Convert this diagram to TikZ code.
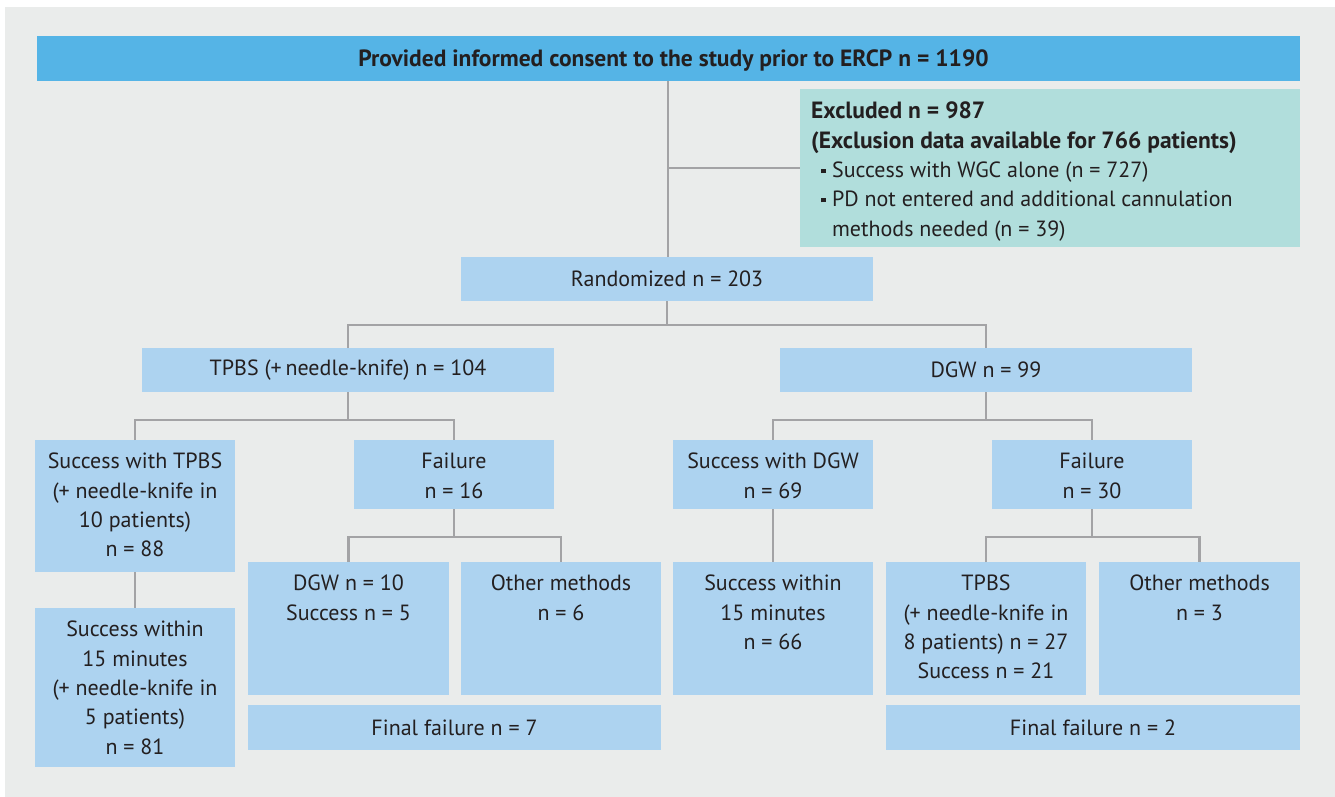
\documentclass[tikz,border=0pt]{standalone}
\usepackage{fontspec}
\setmainfont{PT Sans}
\definecolor{bgpanel}{HTML}{EAECEB}
\definecolor{topblue}{HTML}{55B4E6}
\definecolor{boxblue}{HTML}{ADD3F0}
\definecolor{teal}{HTML}{B1DEDC}
\definecolor{linegrey}{HTML}{A3A3A5}
\definecolor{txtc}{HTML}{231F20}
\newcommand{\sqbul}{\hspace{0.45em}\raisebox{0.2em}{\rule{0.2em}{0.2em}}\hspace{0.3em}}
\newcommand{\bfbig}{\fontsize{23.5}{29.3}\selectfont\bfseries}
\begin{document}
\begin{tikzpicture}[x=1pt,y=-1pt,
  box/.style={fill=boxblue, draw=none, inner sep=0pt, anchor=north west, outer sep=0pt},
  txt/.style={text=txtc, inner sep=0pt, anchor=north, align=center, font=\fontsize{22}{29.3}\selectfont},
  conn/.style={draw=linegrey, line width=2.5pt}]
\useasboundingbox (0,0) rectangle (1335,797);
\fill[white] (0,0) rectangle (1335,797);
\fill[bgpanel] (5,7) rectangle (1335,797);
% boxes
\node[box, fill=topblue, minimum width=1263pt, minimum height=45pt] (top) at (37,36) {};
\node[box, fill=teal, minimum width=500pt, minimum height=158pt] (excl) at (800,89) {};
\node[box, minimum width=412pt, minimum height=44pt] (rand) at (461,257) {};
\node[box, minimum width=412pt, minimum height=44pt] (tpbs) at (142,348) {};
\node[box, minimum width=412pt, minimum height=44pt] (dgw) at (780,348) {};
\node[box, minimum width=200pt, minimum height=132pt] (stpbs) at (35,440) {};
\node[box, minimum width=200pt, minimum height=69pt] (fail1) at (354,440) {};
\node[box, minimum width=200pt, minimum height=159pt] (swithin1) at (35,608) {};
\node[box, minimum width=201pt, minimum height=133pt] (dgw10) at (248,562) {};
\node[box, minimum width=200pt, minimum height=133pt] (other1) at (461,562) {};
\node[box, minimum width=413pt, minimum height=45pt] (ff1) at (248,705) {};
\node[box, minimum width=200pt, minimum height=69pt] (sdgw) at (673,440) {};
\node[box, minimum width=200pt, minimum height=69pt] (fail2) at (992,440) {};
\node[box, minimum width=200pt, minimum height=133pt] (swithin2) at (673,562) {};
\node[box, minimum width=200pt, minimum height=133pt] (tpbs27) at (886,562) {};
\node[box, minimum width=201pt, minimum height=133pt] (other2) at (1099,562) {};
\node[box, minimum width=414pt, minimum height=45pt] (ff2) at (886,705) {};
% texts
\node[txt, anchor=center, font=\bfbig] (top-t) at ([xshift=5pt,yshift=-2pt]top.center) {Provided informed consent to the study prior to ERCP n = 1190};
\node[txt, anchor=north west, align=left] (excl-t) at ([xshift=11pt,yshift=-13pt]excl.north west)
  {{\bfbig Excluded n = 987}\\
   {\bfbig (Exclusion data available for 766 patients)}\\
   \sqbul Success with WGC alone (n = 727)\\
   \sqbul PD not entered and additional cannulation\\
   \hphantom{\sqbul}methods needed (n = 39)};
\node[txt, anchor=center] (rand-t) at (rand.center) {Randomized n = 203};
\node[txt, anchor=center] (tpbs-t) at (tpbs.center) {TPBS (+\,needle-knife) n = 104};
\node[txt, anchor=center] (dgw-t) at (dgw.center) {DGW n = 99};
\node[txt] (stpbs-t) at ([yshift=-13pt]stpbs.north) {Success with TPBS\\(+ needle-knife in\\10 patients)\\n = 88};
\node[txt] (fail1-t) at ([yshift=-13pt]fail1.north) {Failure\\n = 16};
\node[txt] (swithin1-t) at ([yshift=-13pt]swithin1.north) {Success within\\15 minutes\\(+ needle-knife in\\5 patients)\\n = 81};
\node[txt] (dgw10-t) at ([yshift=-13pt]dgw10.north) {DGW n = 10\\Success n = 5};
\node[txt] (other1-t) at ([yshift=-13pt]other1.north) {Other methods\\n = 6};
\node[txt, anchor=center] (ff1-t) at (ff1.center) {Final failure n = 7};
\node[txt] (sdgw-t) at ([yshift=-13pt]sdgw.north) {Success with DGW\\n = 69};
\node[txt] (fail2-t) at ([yshift=-13pt]fail2.north) {Failure\\n = 30};
\node[txt] (swithin2-t) at ([yshift=-13pt]swithin2.north) {Success within\\15 minutes\\n = 66};
\node[txt] (tpbs27-t) at ([yshift=-13pt]tpbs27.north) {TPBS\\(+ needle-knife in\\8 patients) n = 27\\Success n = 21};
\node[txt] (other2-t) at ([yshift=-13pt]other2.north) {Other methods\\n = 3};
\node[txt, anchor=center] (ff2-t) at (ff2.center) {Final failure n = 2};
% connectors
\coordinate (topout) at (668,81);
\coordinate (exj) at (668,168);
\draw[conn] (topout) -- (topout |- rand.north);
\draw[conn] (exj) -- (exj -| excl.west);
\coordinate (rj) at ([yshift=-24pt]rand.south);
\draw[conn] (rand.south) -- (rj);
\draw[conn] (tpbs.north) |- (rj) -| (dgw.north);
\coordinate (tj) at ([yshift=-28pt]tpbs.south);
\draw[conn] (tpbs.south) -- (tj);
\draw[conn] (stpbs.north) |- (tj) -| (fail1.north);
\draw[conn] (stpbs.south) -- (swithin1.north);
\coordinate (fj1) at ([yshift=-28pt]fail1.south);
\draw[conn] (fail1.south) -- (fj1);
\draw[conn] (dgw10.north) |- (fj1) -| (other1.north);
\coordinate (dj) at ([yshift=-28pt]dgw.south);
\draw[conn] (dgw.south) -- (dj);
\draw[conn] (sdgw.north) |- (dj) -| (fail2.north);
\draw[conn] (sdgw.south) -- (swithin2.north);
\coordinate (fj2) at ([yshift=-28pt]fail2.south);
\draw[conn] (fail2.south) -- (fj2);
\draw[conn] (tpbs27.north) |- (fj2) -| (other2.north);
\end{tikzpicture}
\end{document}
